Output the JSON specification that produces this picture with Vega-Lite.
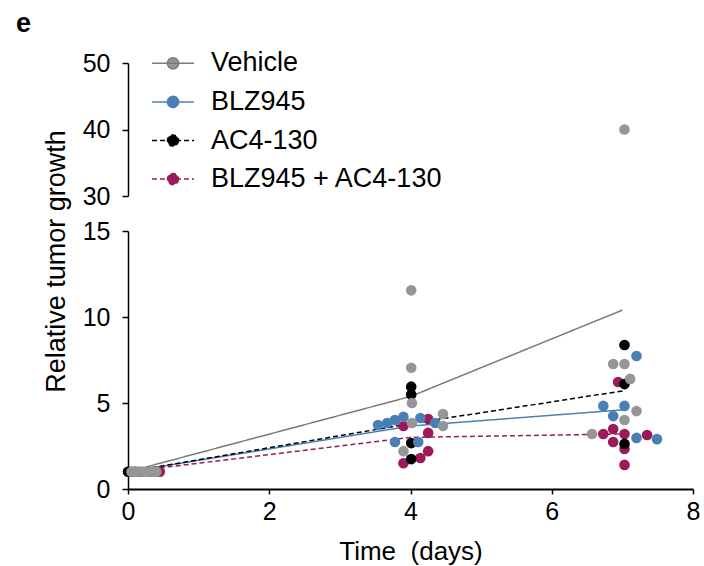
{
  "$schema": "https://vega.github.io/schema/vega-lite/v6.json",
  "padding": {"left": 15, "top": 10, "right": 5, "bottom": 5},
  "background": "white",
  "title": {"text": "e", "anchor": "start", "frame": "bounds", "fontSize": 27, "fontWeight": "bold", "font": "Liberation Sans", "color": "black", "dx": -26, "baseline": "alphabetic", "offset": -16},
  "config": {
    "view": {"stroke": null},
    "font": "Liberation Sans",
    "axis": {"grid": false, "labelFont": "Liberation Sans", "titleFont": "Liberation Sans", "labelColor": "black", "titleColor": "black", "domainColor": "black", "tickColor": "black", "labelFontSize": 25, "titleFontSize": 26, "titleFontWeight": "normal", "labelFlush": false}
  },
  "datasets": {
    "points": [
      {"group": "BLZ945 + AC4-130", "time": 0.15, "value": 1.0},
      {"group": "BLZ945 + AC4-130", "time": 0.3, "value": 1.0},
      {"group": "BLZ945 + AC4-130", "time": 0.45, "value": 1.0},
      {"group": "BLZ945 + AC4-130", "time": 3.9, "value": 3.66},
      {"group": "BLZ945 + AC4-130", "time": 4.25, "value": 4.07},
      {"group": "BLZ945 + AC4-130", "time": 4.25, "value": 3.26},
      {"group": "BLZ945 + AC4-130", "time": 4.25, "value": 2.2},
      {"group": "BLZ945 + AC4-130", "time": 4.14, "value": 1.8},
      {"group": "BLZ945 + AC4-130", "time": 3.9, "value": 1.5},
      {"group": "BLZ945 + AC4-130", "time": 6.94, "value": 6.22},
      {"group": "BLZ945 + AC4-130", "time": 6.73, "value": 3.2},
      {"group": "BLZ945 + AC4-130", "time": 6.87, "value": 3.49},
      {"group": "BLZ945 + AC4-130", "time": 7.03, "value": 3.2},
      {"group": "BLZ945 + AC4-130", "time": 7.35, "value": 3.14},
      {"group": "BLZ945 + AC4-130", "time": 6.87, "value": 2.73},
      {"group": "BLZ945 + AC4-130", "time": 7.03, "value": 2.33},
      {"group": "BLZ945 + AC4-130", "time": 7.03, "value": 1.4},
      {"group": "AC4-130", "time": 0.0, "value": 1.0},
      {"group": "AC4-130", "time": 0.05, "value": 1.0},
      {"group": "AC4-130", "time": 0.1, "value": 1.0},
      {"group": "AC4-130", "time": 4.01, "value": 5.95},
      {"group": "AC4-130", "time": 4.01, "value": 5.5},
      {"group": "AC4-130", "time": 4.01, "value": 2.67},
      {"group": "AC4-130", "time": 4.01, "value": 1.74},
      {"group": "AC4-130", "time": 7.03, "value": 8.37},
      {"group": "AC4-130", "time": 7.03, "value": 6.1},
      {"group": "AC4-130", "time": 7.03, "value": 2.62},
      {"group": "BLZ945", "time": 0.1, "value": 1.0},
      {"group": "BLZ945", "time": 0.2, "value": 1.0},
      {"group": "BLZ945", "time": 0.3, "value": 1.0},
      {"group": "BLZ945", "time": 0.35, "value": 1.0},
      {"group": "BLZ945", "time": 3.54, "value": 3.72},
      {"group": "BLZ945", "time": 3.67, "value": 3.84},
      {"group": "BLZ945", "time": 3.78, "value": 4.01},
      {"group": "BLZ945", "time": 3.9, "value": 4.19},
      {"group": "BLZ945", "time": 4.14, "value": 4.13},
      {"group": "BLZ945", "time": 4.35, "value": 3.84},
      {"group": "BLZ945", "time": 3.78, "value": 2.73},
      {"group": "BLZ945", "time": 4.11, "value": 2.73},
      {"group": "BLZ945", "time": 7.2, "value": 7.73},
      {"group": "BLZ945", "time": 6.73, "value": 4.83},
      {"group": "BLZ945", "time": 7.03, "value": 4.83},
      {"group": "BLZ945", "time": 6.87, "value": 4.24},
      {"group": "BLZ945", "time": 7.2, "value": 2.97},
      {"group": "BLZ945", "time": 7.49, "value": 2.9},
      {"group": "Vehicle", "time": 0.05, "value": 1.0},
      {"group": "Vehicle", "time": 0.12, "value": 1.0},
      {"group": "Vehicle", "time": 0.2, "value": 1.0},
      {"group": "Vehicle", "time": 0.27, "value": 1.0},
      {"group": "Vehicle", "time": 0.35, "value": 1.0},
      {"group": "Vehicle", "time": 0.4, "value": 1.0},
      {"group": "Vehicle", "time": 4.01, "value": 11.55},
      {"group": "Vehicle", "time": 4.01, "value": 7.05},
      {"group": "Vehicle", "time": 4.02, "value": 5.0},
      {"group": "Vehicle", "time": 4.02, "value": 3.84},
      {"group": "Vehicle", "time": 4.46, "value": 4.36},
      {"group": "Vehicle", "time": 4.46, "value": 3.66},
      {"group": "Vehicle", "time": 3.9, "value": 2.2},
      {"group": "Vehicle", "time": 7.03, "value": 40.0},
      {"group": "Vehicle", "time": 6.87, "value": 7.27},
      {"group": "Vehicle", "time": 7.03, "value": 7.27},
      {"group": "Vehicle", "time": 7.11, "value": 6.4},
      {"group": "Vehicle", "time": 7.2, "value": 4.53},
      {"group": "Vehicle", "time": 7.03, "value": 4.01},
      {"group": "Vehicle", "time": 6.57, "value": 3.2}
    ],
    "means": [
      {"group": "Vehicle", "time": 0, "value": 1.0},
      {"group": "Vehicle", "time": 4, "value": 5.38},
      {"group": "Vehicle", "time": 7, "value": 10.4},
      {"group": "BLZ945", "time": 0, "value": 1.0},
      {"group": "BLZ945", "time": 4, "value": 3.66},
      {"group": "BLZ945", "time": 7, "value": 4.6},
      {"group": "AC4-130", "time": 0, "value": 1.0},
      {"group": "AC4-130", "time": 4, "value": 3.8},
      {"group": "AC4-130", "time": 7, "value": 5.7},
      {"group": "BLZ945 + AC4-130", "time": 0, "value": 1.0},
      {"group": "BLZ945 + AC4-130", "time": 4, "value": 3.0},
      {"group": "BLZ945 + AC4-130", "time": 7, "value": 3.2}
    ]
  },
  "bounds": "flush",
  "spacing": 35,
  "resolve": {"scale": {"color": "shared", "strokeDash": "shared"}},
  "vconcat": [
    {
      "width": 565,
      "height": 133,
      "data": {"name": "points"},
      "transform": [{"filter": "datum.value >= 30"}],
      "mark": {"type": "point", "filled": true, "size": 113, "opacity": 1},
      "encoding": {
        "x": {"field": "time", "type": "quantitative", "scale": {"domain": [0, 8]}, "axis": null},
        "y": {"field": "value", "type": "quantitative", "scale": {"domain": [30, 50]},
              "axis": {"values": [30, 40, 50], "title": null, "tickSize": 6, "labelPadding": 12, "domainWidth": 1.5, "tickWidth": 1.5}},
        "color": {
          "field": "group", "type": "nominal",
          "scale": {"domain": ["Vehicle", "BLZ945", "AC4-130", "BLZ945 + AC4-130"], "range": ["#969696", "#4a7fb5", "#000000", "#9c1a5a"]},
          "legend": {
            "orient": "none", "legendX": 25, "legendY": -19.7, "title": null, "padding": 0,
            "labelFont": "Liberation Sans", "labelFontSize": 27, "labelColor": "black", "labelOffset": 18, "labelLimit": 400,
            "rowPadding": 5.6,
            "symbolType": "M-1.1,0H1.1M0.29,0A0.29,0.29,0,1,1,-0.29,0A0.29,0.29,0,1,1,0.29,0Z",
            "symbolSize": 1459, "symbolStrokeWidth": 1.5, "symbolOpacity": 1,
            "encode": {"symbols": {"update": {
              "fill": {"scale": "color", "field": "value"},
              "stroke": {"scale": "color", "field": "value"},
              "strokeDash": {"scale": "strokeDash", "field": "value"},
              "strokeWidth": {"value": 1.5}
            }}}
          }
        }
      }
    },
    {
      "width": 565,
      "height": 258,
      "layer": [
        {
          "data": {"name": "means"},
          "mark": {"type": "line", "strokeWidth": 1.5},
          "encoding": {
            "x": {"field": "time", "type": "quantitative"},
            "y": {"field": "value", "type": "quantitative"},
            "stroke": {"field": "group", "type": "nominal", "legend": null,
              "scale": {"domain": ["Vehicle", "BLZ945", "AC4-130", "BLZ945 + AC4-130"], "range": ["#7a7a7a", "#4a7fb5", "#000000", "#9c1a5a"]}},
            "strokeDash": {"field": "group", "type": "nominal", "legend": null,
              "scale": {"domain": ["Vehicle", "BLZ945", "AC4-130", "BLZ945 + AC4-130"], "range": [[1, 0], [1, 0], [5, 3], [5, 3]]}}
          }
        },
        {
          "data": {"name": "points"},
          "transform": [{"filter": "datum.value <= 15"}],
          "mark": {"type": "point", "filled": true, "size": 113, "opacity": 1},
          "encoding": {
            "x": {"field": "time", "type": "quantitative"},
            "y": {"field": "value", "type": "quantitative"},
            "color": {"field": "group", "type": "nominal", "legend": null}
          }
        }
      ],
      "encoding": {
        "x": {"field": "time", "type": "quantitative", "scale": {"domain": [0, 8]},
              "axis": {"values": [0, 2, 4, 6, 8], "title": "Time\u00a0 (days)", "tickSize": 5, "labelPadding": 5, "domainWidth": 2, "tickWidth": 1.5, "titlePadding": 14}},
        "y": {"field": "value", "type": "quantitative", "scale": {"domain": [0, 15]},
              "axis": {"values": [0, 5, 10, 15], "title": "Relative tumor growth", "tickSize": 6, "labelPadding": 12, "domainWidth": 1.5, "tickWidth": 1.5,
                       "titleFontSize": 27, "titleX": -64, "titleY": 30, "titleAngle": 270, "titleAlign": "center", "titleBaseline": "alphabetic"}}
      }
    }
  ]
}
